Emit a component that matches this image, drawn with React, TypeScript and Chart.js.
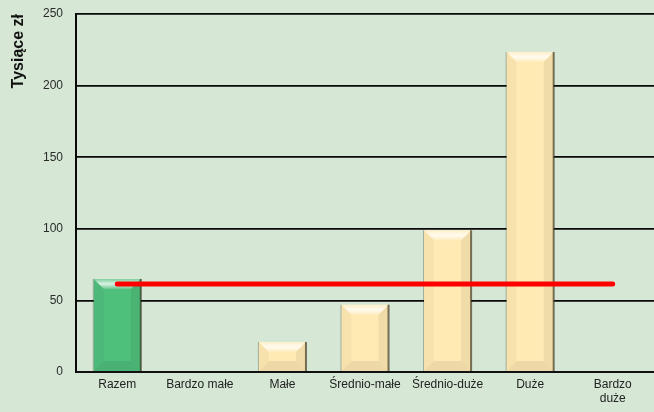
import React, { useEffect, useRef } from "react";
import { Chart, registerables } from "chart.js";

Chart.register(...registerables);

const categories: (string | string[])[] = [
  "Razem",
  "Bardzo małe",
  "Małe",
  "Średnio-małe",
  "Średnio-duże",
  "Duże",
  ["Bardzo", "duże"],
];
const barValues = [65, 0, 21, 47, 99, 223.5, 0];
const averageValues = [61.5, 61.5, 61.5, 61.5, 61.5, 61.5, 61.5];
const yTicks = [0, 50, 100, 150, 200, 250];

const BG = "#d6e8d5";
const GREEN = "#4fbf7c";
const CREAM = "#ffeab4";

const bevelPlugin = {
  id: "bevel",
  afterDatasetDraw(chart: any, args: any) {
    if (args.index !== 0) return;
    const ctx = chart.ctx;
    const meta = chart.getDatasetMeta(0);
    meta.data.forEach((el: any) => {
      const { x, y, base, width } = el.getProps(["x", "y", "base", "width"], true);
      const h = base - y;
      if (h < 2) return;
      const l = x - width / 2;
      const r = x + width / 2;
      const b = Math.min(10, h / 2);
      ctx.save();
      const g = ctx.createLinearGradient(0, y, 0, y + b);
      g.addColorStop(0, "rgba(255,255,255,0.25)");
      g.addColorStop(0.5, "rgba(255,255,255,0.8)");
      g.addColorStop(1, "rgba(255,255,255,0.15)");
      ctx.fillStyle = g;
      ctx.beginPath();
      ctx.moveTo(l, y);
      ctx.lineTo(r, y);
      ctx.lineTo(r - b, y + b);
      ctx.lineTo(l + b, y + b);
      ctx.closePath();
      ctx.fill();
      ctx.fillStyle = "rgba(0,0,0,0.03)";
      ctx.beginPath();
      ctx.moveTo(l, y);
      ctx.lineTo(l + b, y + b);
      ctx.lineTo(l + b, base - b);
      ctx.lineTo(l, base);
      ctx.closePath();
      ctx.fill();
      ctx.fillStyle = "rgba(0,0,0,0.06)";
      ctx.beginPath();
      ctx.moveTo(r, y);
      ctx.lineTo(r - b, y + b);
      ctx.lineTo(r - b, base - b);
      ctx.lineTo(r, base);
      ctx.closePath();
      ctx.fill();
      ctx.fillStyle = "rgba(0,0,0,0.07)";
      ctx.beginPath();
      ctx.moveTo(l, base);
      ctx.lineTo(l + b, base - b);
      ctx.lineTo(r - b, base - b);
      ctx.lineTo(r, base);
      ctx.closePath();
      ctx.fill();
      ctx.strokeStyle = "rgba(0,0,0,0.25)";
      ctx.lineWidth = 1;
      ctx.beginPath();
      ctx.moveTo(l - 0.5, base);
      ctx.lineTo(l - 0.5, y);
      ctx.stroke();
      ctx.strokeStyle = "rgba(40,30,10,0.6)";
      ctx.lineWidth = 2;
      ctx.beginPath();
      ctx.moveTo(r, y);
      ctx.lineTo(r, base);
      ctx.stroke();
      ctx.restore();
    });
  },
};

const bgPlugin = {
  id: "bgfill",
  beforeDraw(chart: any) {
    const ctx = chart.ctx;
    ctx.save();
    ctx.fillStyle = BG;
    ctx.fillRect(0, 0, chart.width, chart.height);
    ctx.restore();
  },
};

export default function App() {
  const ref = useRef<HTMLCanvasElement | null>(null);
  useEffect(() => {
    document.body.style.margin = "0";
    document.body.style.background = BG;
    const chart = new Chart(ref.current as HTMLCanvasElement, {
      type: "bar",
      data: {
        labels: categories as any,
        datasets: [
          {
            type: "bar",
            data: barValues,
            backgroundColor: barValues.map((_, i) => (i === 0 ? GREEN : CREAM)),
            borderWidth: 0,
            barPercentage: 0.57,
            categoryPercentage: 1,
            order: 2,
          },
          {
            type: "line",
            data: averageValues,
            borderColor: "#ff0000",
            borderWidth: 5,
            borderCapStyle: "round",
            pointRadius: 0,
            fill: false,
            order: 1,
          } as any,
        ],
      },
      options: {
        animation: false,
        responsive: false,
        devicePixelRatio: 1,
        layout: { padding: { top: 14, left: 0, right: 0, bottom: 0 } },
        plugins: { legend: { display: false }, tooltip: { enabled: false } },
        scales: {
          x: {
            grid: { display: false, drawTicks: false },
            border: { display: true, color: "#111", width: 2 },
            ticks: {
              color: "#222",
              font: { family: "Liberation Sans, Arial", size: 12 },
              padding: 5,
              maxRotation: 0,
              autoSkip: false,
            },
            afterFit: (s: any) => {
              s.height = 40;
              s.paddingLeft = 0;
              s.paddingRight = 0;
            },
          },
          y: {
            min: 0,
            max: 250,
            afterBuildTicks: (s: any) => {
              s.ticks = yTicks.map((v) => ({ value: v }));
            },
            grid: { color: "#0a0a0a", lineWidth: 1.8, drawTicks: false },
            border: { display: true, color: "#0a0a0a", width: 2 },
            ticks: {
              color: "#2a2a2a",
              font: { family: "Liberation Sans, Arial", size: 12 },
              padding: 13,
            },
            title: {
              display: true,
              text: "Tysiące zł",
              align: "end",
              color: "#111",
              font: { family: "Liberation Sans, Arial", size: 16, weight: "bold" },
              padding: { top: 9, bottom: 0 },
            },
            afterFit: (s: any) => {
              s.width = 76;
              s.paddingTop = 0;
              s.paddingBottom = 0;
            },
          },
        },
      },
      plugins: [bgPlugin, bevelPlugin],
    });
    return () => chart.destroy();
  }, []);
  return (
    <div style={{ position: "fixed", left: 0, top: 0, width: 654, height: 412, background: BG }}>
      <canvas ref={ref} width={654} height={412} style={{ width: 654, height: 412 }} />
    </div>
  );
}
